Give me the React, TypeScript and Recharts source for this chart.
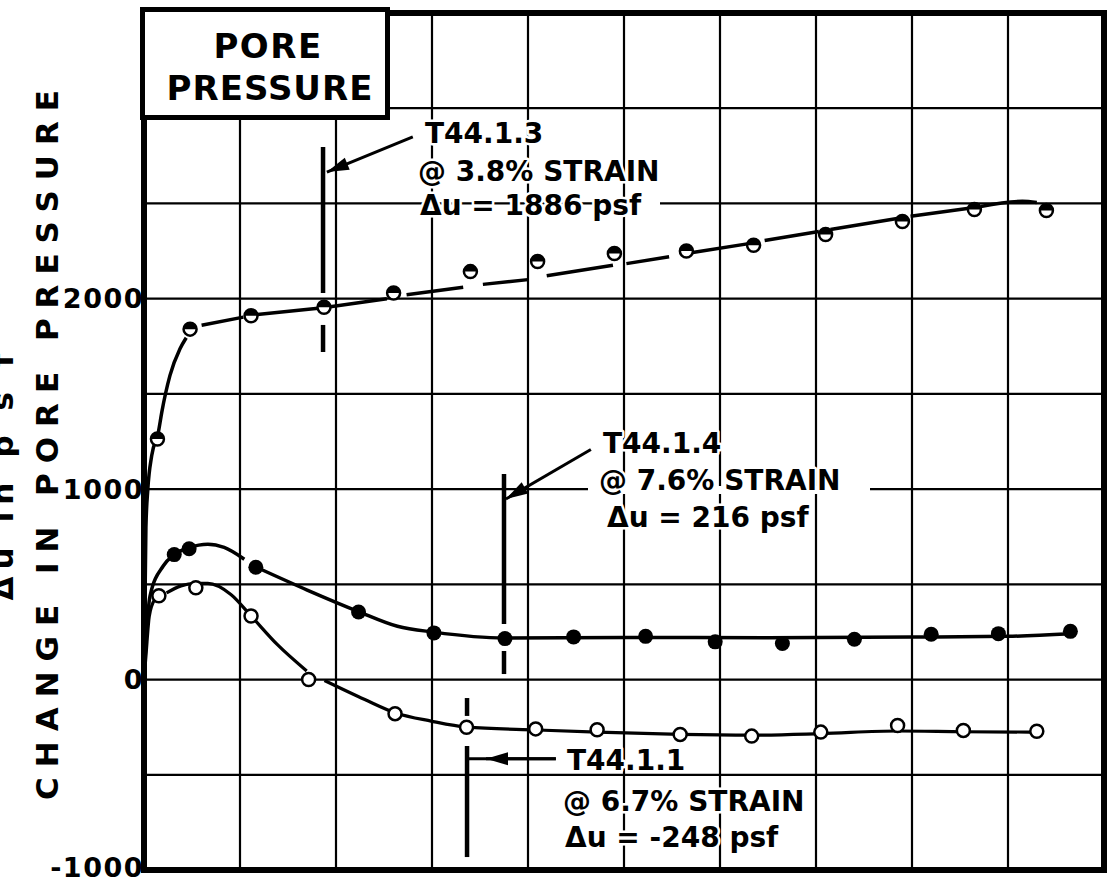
import React from 'react';
import { ComposedChart, Line, Scatter, XAxis, YAxis, CartesianGrid, ReferenceLine } from 'recharts';

// ---- axes ----
const strainTicks = [0, 2, 4, 6, 8, 10, 12, 14, 16, 18, 20];
const pressureTicks = [-1000, -500, 0, 500, 1000, 1500, 2000, 2500, 3000, 3500];
const pressureLabels = [-1000, 0, 1000, 2000];

// ---- T44.1.3 (half-filled circles) ----
const t443Points = [
  { s: 0.28, du: 1263 }, { s: 0.96, du: 1840 }, { s: 2.23, du: 1910 }, { s: 3.75, du: 1955 },
  { s: 5.2, du: 2030 }, { s: 6.8, du: 2142 }, { s: 8.2, du: 2195 }, { s: 9.8, du: 2237 },
  { s: 11.3, du: 2250 }, { s: 12.7, du: 2280 }, { s: 14.2, du: 2337 }, { s: 15.8, du: 2405 },
  { s: 17.3, du: 2468 }, { s: 18.8, du: 2463 },
];
const t443Curve = [
  { s: 0, du: 0 }, { s: 0.04, du: 800 }, { s: 0.08, du: 1000 }, { s: 0.16, du: 1175 }, { s: 0.3, du: 1300 },
  { s: 0.37, du: 1403 }, { s: 0.54, du: 1596 }, { s: 0.75, du: 1737 }, { s: 0.88, du: 1795 },
  { s: 1.05, du: null },
  { s: 1.2, du: 1860 }, { s: 2.07, du: 1903 },
  { s: 2.2, du: null },
  { s: 2.31, du: 1915 }, { s: 3.63, du: 1950 },
  { s: 3.75, du: null },
  { s: 3.88, du: 1958 }, { s: 5.06, du: 2000 },
  { s: 5.25, du: null },
  { s: 5.47, du: 2020 }, { s: 6.65, du: 2060 },
  { s: 6.85, du: null },
  { s: 7.06, du: 2075 }, { s: 8.0, du: 2100 },
  { s: 8.2, du: null },
  { s: 8.39, du: 2120 }, { s: 9.77, du: 2175 },
  { s: 9.9, du: null },
  { s: 10.05, du: 2184 }, { s: 10.94, du: 2220 },
  { s: 11.2, du: null },
  { s: 11.43, du: 2242 }, { s: 12.6, du: 2289 },
  { s: 12.75, du: null },
  { s: 12.93, du: 2305 }, { s: 14.06, du: 2353 },
  { s: 14.2, du: null },
  { s: 14.3, du: 2363 }, { s: 15.69, du: 2421 },
  { s: 15.8, du: null },
  { s: 15.97, du: 2433 }, { s: 17.15, du: 2474 },
  { s: 17.3, du: null },
  { s: 17.43, du: 2484 }, { s: 18.3, du: 2511 }, { s: 18.6, du: 2505 },
];

// ---- T44.1.4 (filled circles) ----
const t444Points = [
  { s: 0.63, du: 656 }, { s: 0.94, du: 687 }, { s: 2.33, du: 590 }, { s: 4.47, du: 355 },
  { s: 6.04, du: 245 }, { s: 7.52, du: 215 }, { s: 8.95, du: 224 }, { s: 10.45, du: 227 },
  { s: 11.9, du: 198 }, { s: 13.3, du: 189 }, { s: 14.8, du: 212 }, { s: 16.4, du: 238 },
  { s: 17.8, du: 241 }, { s: 19.3, du: 253 },
];
const t444Curve = [
  { s: 0, du: 0 }, { s: 0.04, du: 193 }, { s: 0.125, du: 438 }, { s: 0.4, du: 596 }, { s: 0.63, du: 656 },
  { s: 0.94, du: 693 }, { s: 1.33, du: 711 }, { s: 1.67, du: 694 }, { s: 2.09, du: 632 },
  { s: 2.2, du: null },
  { s: 2.33, du: 591 }, { s: 3.4, du: 470 }, { s: 4.47, du: 357 }, { s: 5.28, du: 280 }, { s: 6.04, du: 249 },
  { s: 7.52, du: 218 }, { s: 10, du: 221 }, { s: 13, du: 220 }, { s: 16, du: 223 }, { s: 18, du: 227 },
  { s: 19.3, du: 240 },
];

// ---- T44.1.1 (open circles) ----
const t441Points = [
  { s: 0.31, du: 440 }, { s: 1.08, du: 482 }, { s: 2.23, du: 334 }, { s: 3.43, du: 0 },
  { s: 5.23, du: -179 }, { s: 6.72, du: -250 }, { s: 8.16, du: -259 }, { s: 9.44, du: -264 },
  { s: 11.17, du: -288 }, { s: 12.66, du: -297 }, { s: 14.1, du: -276 }, { s: 15.7, du: -241 },
  { s: 17.07, du: -267 }, { s: 18.6, du: -271 },
];
const t441Curve = [
  { s: 0, du: 0 }, { s: 0.04, du: 123 }, { s: 0.11, du: 333 }, { s: 0.22, du: 420 },
  { s: 0.39, du: null },
  { s: 0.47, du: 455 }, { s: 0.77, du: 492 }, { s: 1.08, du: 505 }, { s: 1.33, du: 505 }, { s: 1.81, du: 447 },
  { s: 2.23, du: 334 }, { s: 2.78, du: 183 }, { s: 3.39, du: 45 },
  { s: 3.55, du: null },
  { s: 3.76, du: -5 }, { s: 4.6, du: -105 }, { s: 5.23, du: -174 }, { s: 5.98, du: -218 }, { s: 6.73, du: -250 },
  { s: 8.2, du: -265 }, { s: 9.44, du: -276 }, { s: 11.17, du: -288 }, { s: 12.66, du: -292 }, { s: 14.1, du: -284 },
  { s: 15.7, du: -270 }, { s: 17.07, du: -274 }, { s: 18.6, du: -276 },
];

// ---- annotation marks (strain %, psf) ----
const markerSegments = [
  [[3.73, 2796], [3.73, 2030]], [[3.73, 1862], [3.73, 1720]],
  [[7.5, 1079], [7.5, 292]], [[7.5, 150], [7.5, 29]],
  [[6.73, -97], [6.73, -191]], [[6.73, -349], [6.73, -932]],
];
const leaderSegments = [[[6.75, -416], [8.58, -416]]];
const arrowSegments = [
  [[5.6, 2849], [3.81, 2665]],
  [[9.31, 1208], [7.54, 948]],
  [[8.58, -416], [7.125, -416]],
];

// ---- texts ----
const boxTitle = ['PORE', 'PRESSURE'];
const yTitle = 'CHANGE IN PORE PRESSURE';
const yTitle2 = 'Δu in p s f';
const notes = [
  { lines: ['T44.1.3', '@ 3.8% STRAIN', 'Δu = 1886 psf'], x: [425, 418, 420], y: [143, 181, 215] },
  { lines: ['T44.1.4', '@ 7.6% STRAIN', 'Δu = 216 psf'], x: [603, 599, 607], y: [453, 490, 527] },
  { lines: ['T44.1.1', '@ 6.7% STRAIN', 'Δu = -248 psf'], x: [567, 563, 565], y: [770, 811, 847] },
];

const FONT = 'DejaVu Sans, Liberation Sans, sans-serif';

const Tick = (props: any) => {
  const { x, y, payload } = props;
  if (!pressureLabels.includes(payload.value)) return <g />;
  const adj = payload.value === -1000 ? -3 : 0;
  return (
    <text x={x} y={y + adj} dy="0.36em" textAnchor="end" fontFamily={FONT} fontWeight="bold" fontSize={27} letterSpacing={1.5} fill="#000">
      {payload.value}
    </text>
  );
};

const HalfDot = (p: any) => {
  const { cx, cy } = p;
  const r = 6.5;
  return (
    <g>
      <circle cx={cx} cy={cy} r={r} fill="#fff" stroke="#000" strokeWidth={2.5} />
      <path d={`M${cx - r},${cy} A${r},${r} 0 0 1 ${cx + r},${cy} Z`} fill="#000" />
    </g>
  );
};
const FilledDot = (p: any) => <circle cx={p.cx} cy={p.cy} r={7.5} fill="#000" />;
const OpenDot = (p: any) => <circle cx={p.cx} cy={p.cy} r={6.5} fill="#fff" stroke="#000" strokeWidth={2.5} />;

const ArrowShape = (props: any) => {
  const { x1, y1, x2, y2 } = props;
  const a = Math.atan2(y2 - y1, x2 - x1);
  const L = 22, W = 6.5;
  const bx = x2 - L * Math.cos(a), by = y2 - L * Math.sin(a);
  const px = -Math.sin(a) * W, py = Math.cos(a) * W;
  return (
    <g>
      <line x1={x1} y1={y1} x2={x2} y2={y2} stroke="#000" strokeWidth={3} />
      <polygon points={`${x2},${y2} ${bx + px},${by + py} ${bx - px},${by - py}`} fill="#000" />
    </g>
  );
};

export default function App() {
  return (
    <div style={{ position: 'absolute', left: 0, top: 0, width: 1111, height: 888, background: '#fff' }}>
      <ComposedChart width={1111} height={888} margin={{ top: 13, right: 7, bottom: 0, left: 0 }}>
        <CartesianGrid stroke="#000" strokeWidth={2.2} vertical={false} />
        <XAxis type="number" dataKey="s" domain={[0, 20]} ticks={strainTicks} tick={false} axisLine={false} tickLine={false} height={18} allowDataOverflow />
        <YAxis type="number" domain={[-1000, 3500]} ticks={pressureTicks} interval={0} width={144} tick={<Tick />} tickSize={0} tickMargin={0} axisLine={false} tickLine={false} allowDataOverflow />
        {strainTicks.map((t) => (
          <ReferenceLine key={'g' + t} x={t} stroke="#000" strokeWidth={2.2} />
        ))}
        {markerSegments.map((sg, i) => (
          <ReferenceLine key={'m' + i} segment={[{ x: sg[0][0], y: sg[0][1] }, { x: sg[1][0], y: sg[1][1] }]} stroke="#000" strokeWidth={4.5} />
        ))}
        {leaderSegments.map((sg, i) => (
          <ReferenceLine key={'l' + i} segment={[{ x: sg[0][0], y: sg[0][1] }, { x: sg[1][0], y: sg[1][1] }]} stroke="#000" strokeWidth={3} />
        ))}
        {arrowSegments.map((sg, i) => (
          <ReferenceLine key={'a' + i} segment={[{ x: sg[0][0], y: sg[0][1] }, { x: sg[1][0], y: sg[1][1] }]} shape={ArrowShape} />
        ))}
        <Line data={t443Curve} dataKey="du" type="monotone" stroke="#000" strokeWidth={3.5} dot={false} activeDot={false} isAnimationActive={false} />
        <Line data={t444Curve} dataKey="du" type="monotone" stroke="#000" strokeWidth={3.5} dot={false} activeDot={false} isAnimationActive={false} />
        <Line data={t441Curve} dataKey="du" type="monotone" stroke="#000" strokeWidth={3.2} dot={false} activeDot={false} isAnimationActive={false} />
        <Scatter data={t443Points} dataKey="du" shape={HalfDot} isAnimationActive={false} />
        <Scatter data={t444Points} dataKey="du" shape={FilledDot} isAnimationActive={false} />
        <Scatter data={t441Points} dataKey="du" shape={OpenDot} isAnimationActive={false} />
      </ComposedChart>
      <svg width={1111} height={888} style={{ position: 'absolute', left: 0, top: 0, pointerEvents: 'none' }}>
        <rect x={144} y={13} width={960} height={857} fill="none" stroke="#000" strokeWidth={6} />
        <rect x={142.5} y={9.5} width={245} height={108} fill="#fff" stroke="#000" strokeWidth={5} />
        <text x={268} y={58} textAnchor="middle" fontFamily={FONT} fontWeight="bold" fontSize={34} letterSpacing={1.5} fill="#000">{boxTitle[0]}</text>
        <text x={270} y={100} textAnchor="middle" fontFamily={FONT} fontWeight="bold" fontSize={34} letterSpacing={1} fill="#000">{boxTitle[1]}</text>
        <text transform="translate(58,445) rotate(-90)" textAnchor="middle" fontFamily={FONT} fontWeight="bold" fontSize={31} textLength={710} lengthAdjust="spacing" fill="#000">{yTitle}</text>
        <text transform="translate(13,477) rotate(-90)" textAnchor="middle" fontFamily={FONT} fontWeight="bold" fontSize={31} textLength={247} lengthAdjust="spacing" fill="#000">{yTitle2}</text>
        <rect x={588} y={486} width={282} height={8} fill="#fff" />
        <rect x={638} y={199} width={22} height={9} fill="#fff" />
        {notes.map((n, i) => (
          <g key={i}>
            {n.lines.map((t, j) => (
              <text key={j} x={n.x[j]} y={n.y[j]} fontFamily={FONT} fontWeight="bold" fontSize={28} fill="#000" stroke="#fff" strokeWidth={5} strokeLinejoin="round" style={{ paintOrder: 'stroke' }}>{t}</text>
            ))}
          </g>
        ))}
      </svg>
    </div>
  );
}
